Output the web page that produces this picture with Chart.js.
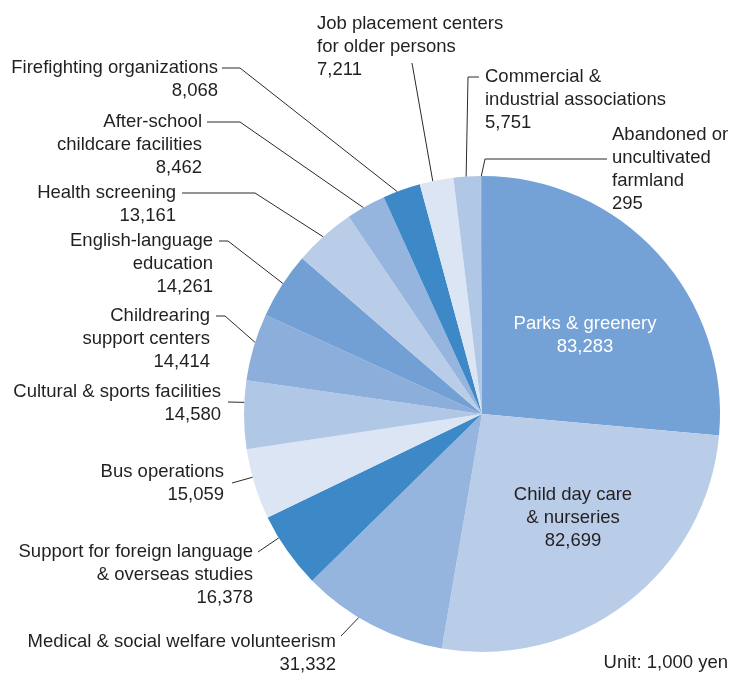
<!DOCTYPE html>
<html>
<head>
<meta charset="utf-8">
<title>Expenditure breakdown</title>
<script src="https://cdn.jsdelivr.net/npm/chart.js@4.4.1/dist/chart.umd.min.js"></script>
<style>
  html, body { margin: 0; padding: 0; background: #ffffff; }
  #wrap { position: relative; width: 732px; height: 673px; }
</style>
</head>
<body>
<div id="wrap"><canvas id="pieChart"></canvas></div>
<script>
//--- Data (clockwise from 12 o'clock)
var categories = [
    ['Parks & greenery'],
    ['Child day care', '& nurseries'],
    ['Medical & social welfare volunteerism'],
    ['Support for foreign language', '& overseas studies'],
    ['Bus operations'],
    ['Cultural & sports facilities'],
    ['Childrearing', 'support centers'],
    ['English-language', 'education'],
    ['Health screening'],
    ['After-school', 'childcare facilities'],
    ['Firefighting organizations'],
    ['Job placement centers', 'for older persons'],
    ['Commercial &', 'industrial associations'],
    ['Abandoned or', 'uncultivated', 'farmland']
];
var amounts = [83283, 82699, 31332, 16378, 15059, 14580, 14414, 14261, 13161, 8462, 8068, 7211, 5751, 295];
var unitNote = 'Unit: 1,000 yen';

//--- Styles
var sliceColors = ['#74A2D6', '#B9CDE9', '#95B5DF', '#3D89C8', '#DCE5F4', '#B1C7E6', '#8BAEDB',
                   '#72A0D5', '#B9CDE9', '#95B5DF', '#3D89C8', '#DCE5F4', '#B1C7E6', '#8BAEDB'];
var textColor = '#231F20';
var lineColor = '#2a2a2a';
var fontSpec = '18.5px "Liberation Sans", Arial, Helvetica, sans-serif';
var lineH = 23;

// label placement: x,y = first text line, align, leader = points before the arc, at = where on the slice the line ends
var labelLayout = [
    { inside: true, x: 585, y: 324, color: '#ffffff' },
    { inside: true, x: 573, y: 495, color: textColor },
    { x: 336, y: 642, align: 'right', leader: [[341, 636]], at: 0.60 },
    { x: 253, y: 552, align: 'right', leader: [[258, 552]], at: 0.70 },
    { x: 224, y: 472, align: 'right', leader: [[232, 483]], at: 0.60 },
    { x: 221, y: 392, align: 'right', leader: [[228, 402]], at: 0.68 },
    { x: 210, y: 316, align: 'right', leader: [[216, 316], [225, 316]], at: 0.57 },
    { x: 213, y: 241, align: 'right', leader: [[219, 241], [228, 241]], at: 0.53 },
    { x: 176, y: 193, align: 'right', leader: [[182, 193], [255, 193]], at: 0.48 },
    { x: 202, y: 122, align: 'right', leader: [[207, 122], [240, 122]], at: 0.43 },
    { x: 218, y: 68, align: 'right', leader: [[222, 68], [240, 68]], at: 0.38 },
    { x: 317, y: 24, align: 'left', leader: [[412, 63]], at: 0.39 },
    { x: 485, y: 77, align: 'left', leader: [[479, 77], [468, 77]], at: 0.47 },
    { x: 612, y: 135, align: 'left', leader: [[607, 159], [485, 159]], at: 0.5 }
];

function fmt(n) {
    return n.toLocaleString('en-US');
}

//--- Plugin: labels + leader lines
var labelPlugin = {
    id: 'pieLabels',
    afterDatasetsDraw: function (chart) {
        var ctx = chart.ctx;
        var meta = chart.getDatasetMeta(0);
        ctx.save();
        ctx.font = fontSpec;
        ctx.textBaseline = 'middle';
        for (var i = 0; i < meta.data.length; i++) {
            var arc = meta.data[i];
            var lay = labelLayout[i];
            var lines = categories[i].concat([fmt(amounts[i])]);
            if (lay.inside) {
                ctx.fillStyle = lay.color;
                ctx.textAlign = 'center';
            } else {
                var a = arc.startAngle + (arc.endAngle - arc.startAngle) * lay.at;
                var px = arc.x + Math.cos(a) * arc.outerRadius;
                var py = arc.y + Math.sin(a) * arc.outerRadius;
                ctx.strokeStyle = lineColor;
                ctx.lineWidth = 1;
                ctx.beginPath();
                ctx.moveTo(lay.leader[0][0], lay.leader[0][1]);
                for (var k = 1; k < lay.leader.length; k++) {
                    ctx.lineTo(lay.leader[k][0], lay.leader[k][1]);
                }
                ctx.lineTo(px, py);
                ctx.stroke();
                ctx.fillStyle = textColor;
                ctx.textAlign = lay.align;
            }
            for (var j = 0; j < lines.length; j++) {
                ctx.fillText(lines[j], lay.x, lay.y + j * lineH);
            }
        }
        // unit note
        ctx.fillStyle = textColor;
        ctx.textAlign = 'right';
        ctx.fillText(unitNote, 728, 663);
        ctx.restore();
    }
};

var ctx = document.getElementById('pieChart');
var pieChart = new Chart(ctx, {
    type: 'pie',
    data: {
        labels: categories.map(function (c) { return c.join(' '); }),
        datasets: [{
            data: amounts,
            backgroundColor: sliceColors,
            borderWidth: 0
        }]
    },
    options: {
        responsive: true,
        maintainAspectRatio: false,
        animation: false,
        layout: { padding: { left: 244, right: 12, top: 176, bottom: 21 } },
        plugins: {
            legend: { display: false },
            tooltip: { enabled: false }
        }
    },
    plugins: [labelPlugin]
});
</script>
</body>
</html>
